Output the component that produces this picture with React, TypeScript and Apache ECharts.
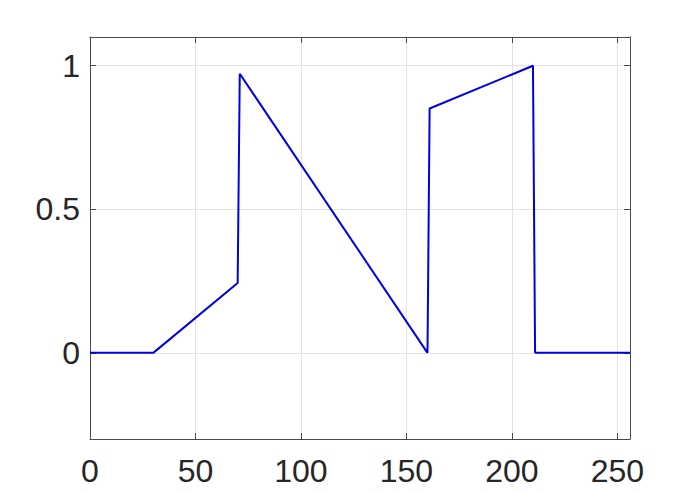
import React, { useEffect, useRef } from "react";
import * as echarts from "echarts";

const xValues = [0, 30, 70, 71, 160, 161, 210, 211, 256];
const yValues = [0, 0, 0.243, 0.972, 0, 0.851, 1, 0, 0];
const yTicks = [0, 0.5, 1];

const textColor = "#262626";
const axisColor = "#4a4a4a";
const gridColor = "#e3e3e3";
const font = "'Liberation Sans', Arial, sans-serif";

export default function App() {
  const ref = useRef<HTMLDivElement>(null);
  useEffect(() => {
    if (!ref.current) return;
    const chart = echarts.init(ref.current, null, { renderer: "svg" });
    const baseX = {
      type: "value" as const,
      min: 0,
      max: 256,
      interval: 50,
      axisLine: { show: true, onZero: false, lineStyle: { color: axisColor, width: 1 } },
      axisTick: { show: true, inside: true, length: 6, lineStyle: { color: axisColor } },
    };
    const baseY = {
      type: "value" as const,
      min: -0.3,
      max: 1.1,
      axisLine: { show: true, onZero: false, lineStyle: { color: axisColor, width: 1 } },
      axisTick: { show: true, inside: true, length: 6, customValues: yTicks, lineStyle: { color: axisColor } },
    };
    chart.setOption({
      animation: false,
      grid: { left: 90, right: 66, top: 37, bottom: 54, containLabel: false },
      xAxis: [
        {
          ...baseX,
          position: "bottom",
          axisLabel: {
            show: true,
            color: textColor,
            fontSize: 32,
            fontFamily: font,
            margin: 16,
            showMaxLabel: false,
          },
          splitLine: { show: true, lineStyle: { color: gridColor, width: 1 } },
        },
        {
          ...baseX,
          position: "top",
          axisLabel: { show: false },
          splitLine: { show: false },
        },
      ],
      yAxis: [
        {
          ...baseY,
          position: "left",
          axisLabel: {
            show: true,
            color: textColor,
            fontSize: 32,
            fontFamily: font,
            margin: 10,
            customValues: yTicks,
            formatter: (v: number) => String(Math.round(v * 10) / 10),
          },
          splitLine: { show: true, lineStyle: { color: gridColor, width: 1 } },
        },
        {
          ...baseY,
          position: "right",
          axisLabel: { show: false },
          splitLine: { show: false },
        },
      ],
      series: [
        {
          type: "line",
          xAxisIndex: 0,
          yAxisIndex: 0,
          data: xValues.map((x, i) => [x, yValues[i]]),
          showSymbol: false,
          symbol: "none",
          lineStyle: { color: "#0000e6", width: 2 },
        },
      ],
    });
    return () => chart.dispose();
  }, []);
  return <div ref={ref} style={{ width: 696, height: 493, position: "absolute", left: 0, top: 0, background: "#fff" }} />;
}
